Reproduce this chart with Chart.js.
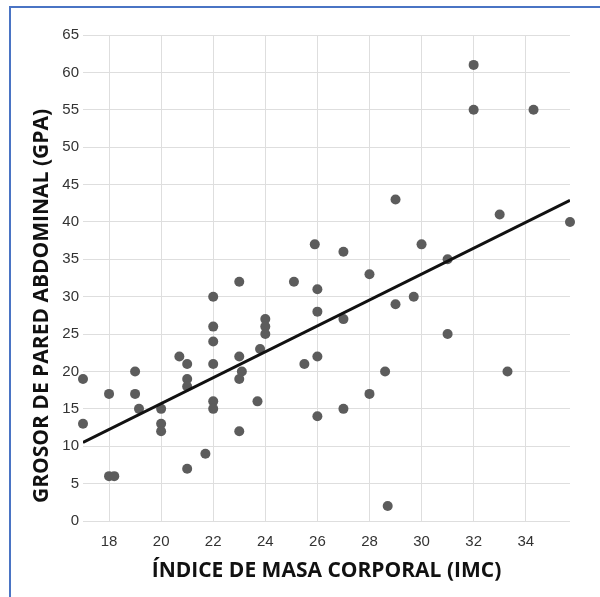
<!DOCTYPE html>
<html>
<head>
<meta charset="utf-8">
<script src="https://cdn.jsdelivr.net/npm/chart.js@4.4.1/dist/chart.umd.min.js"></script>
<style>
  html, body { margin: 0; padding: 0; background: #fff; }
  #wrap { position: relative; width: 600px; height: 597px; }
  #frame { position: absolute; left: 9px; top: 6px; right: 0; bottom: 0;
           border-top: 2px solid #4a74c4; border-left: 2px solid #4a74c4; pointer-events: none; }
  canvas { position: absolute; left: 0; top: 0; }
</style>
</head>
<body>
<div id="wrap">
  <canvas id="c" width="600" height="597"></canvas>
  <div id="frame"></div>
</div>
<script>
// Índice de masa corporal (IMC) for each patient
const imc = [17, 17, 18, 18, 18.2, 19, 19, 19.15, 20, 20, 20, 20.7, 21, 21, 21, 21, 21.7,
  22, 22, 22, 22, 22, 22, 23, 23, 23.1, 23, 23, 23.8, 23.7, 24, 24, 24,
  25.1, 25.5, 25.9, 26, 26, 26, 26, 27, 27, 27, 28, 28, 28.6, 28.7,
  29, 29, 29.7, 30, 31, 31, 32, 32, 33, 33.3, 34.3, 35.7];
// Grosor de pared abdominal (GPA) for each patient
const gpa = [19, 13, 17, 6, 6, 20, 17, 15, 15, 13, 12, 22, 21, 19, 18, 7, 9,
  30, 26, 24, 21, 16, 15, 32, 22, 20, 19, 12, 23, 16, 27, 26, 25,
  32, 21, 37, 31, 28, 22, 14, 36, 27, 15, 33, 17, 20, 2,
  43, 29, 30, 37, 35, 25, 61, 55, 41, 20, 55, 40];
// Trend line end points
const trendX = [17, 35.7];
const trendY = [10.5, 42.9];
// Axis ticks
const xTicks = [18, 20, 22, 24, 26, 28, 30, 32, 34];
const yTicks = [0, 5, 10, 15, 20, 25, 30, 35, 40, 45, 50, 55, 60, 65];

const xTitle = 'ÍNDICE DE MASA CORPORAL (IMC)';
const yTitle = 'GROSOR DE PARED ABDOMINAL (GPA)';

const titlesPlugin = {
  id: 'axisTitles',
  afterDraw(chart) {
    const ctx = chart.ctx;
    const a = chart.chartArea;
    ctx.save();
    ctx.font = 'bold 21px "Open Sans"';
    ctx.fillStyle = '#111';
    ctx.textAlign = 'center';
    ctx.textBaseline = 'middle';
    ctx.fillText(xTitle, (a.left + a.right) / 2, a.bottom + 50);
    ctx.translate(42, a.top + 271);
    ctx.rotate(-Math.PI / 2);
    ctx.fillText(yTitle, 0, 0);
    ctx.restore();
  }
};

const tickFont = { family: '"Liberation Sans", Arial, sans-serif', size: 15 };

new Chart(document.getElementById('c'), {
  type: 'scatter',
  data: {
    datasets: [
      {
        type: 'scatter',
        data: imc.map((x, i) => ({ x: x, y: gpa[i] })),
        backgroundColor: '#5c5c5c',
        borderWidth: 0,
        pointRadius: 5,
        pointHoverRadius: 5,
        clip: false,
        order: 2
      },
      {
        type: 'line',
        data: trendX.map((x, i) => ({ x: x, y: trendY[i] })),
        borderColor: '#111',
        borderWidth: 3,
        pointRadius: 0,
        fill: false,
        order: 1
      }
    ]
  },
  options: {
    responsive: false,
    animation: false,
    events: [],
    layout: { padding: { top: 35, right: 30, left: 0, bottom: 0 } },
    plugins: { legend: { display: false }, tooltip: { enabled: false } },
    scales: {
      x: {
        type: 'linear',
        min: 17,
        max: 35.7,
        afterBuildTicks: s => { s.ticks = xTicks.map(v => ({ value: v })); },
        afterFit: s => { s.height = 76; },
        grid: { color: '#dedede', lineWidth: 1, drawTicks: false },
        border: { display: false },
        ticks: { font: tickFont, color: '#333', padding: 12, maxRotation: 0, autoSkip: false }
      },
      y: {
        type: 'linear',
        min: 0,
        max: 65,
        afterBuildTicks: s => { s.ticks = yTicks.map(v => ({ value: v })); },
        afterFit: s => { s.width = 83; },
        grid: { color: '#dedede', lineWidth: 1, drawTicks: false },
        border: { display: false },
        ticks: { font: tickFont, color: '#333', padding: 4, autoSkip: false }
      }
    }
  },
  plugins: [titlesPlugin]
});
</script>
</body>
</html>
